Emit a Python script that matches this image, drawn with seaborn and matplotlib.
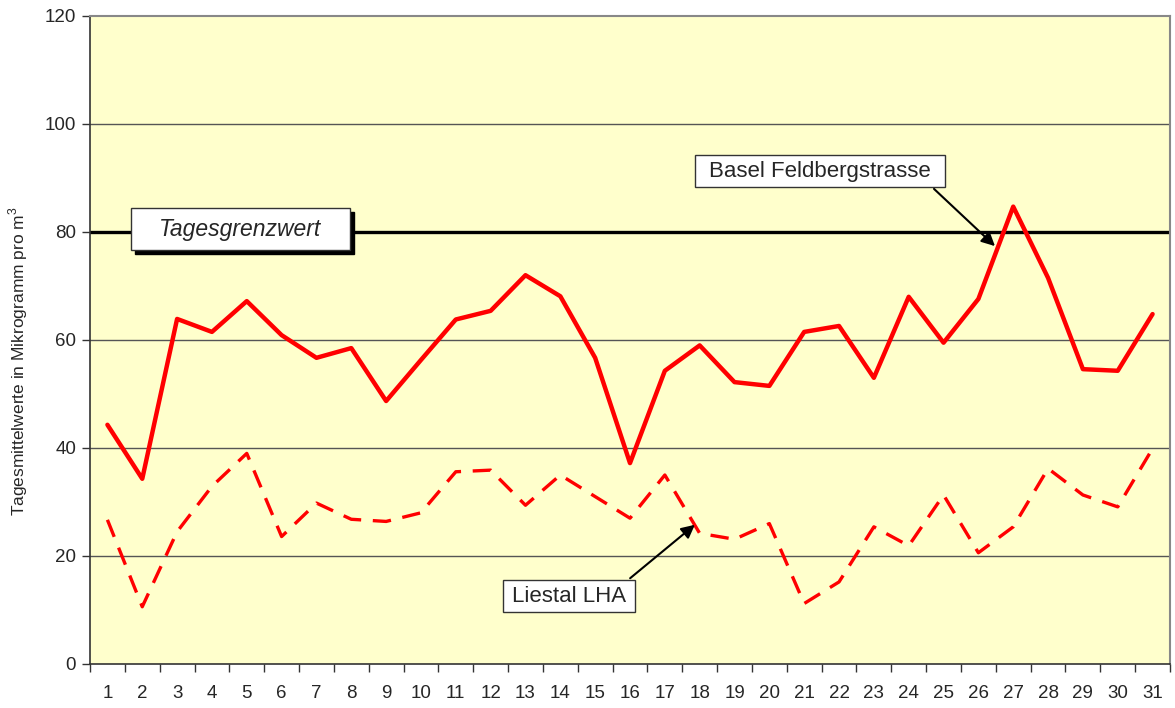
import matplotlib
matplotlib.use("Agg")
import matplotlib.pyplot as plt
import seaborn as sns
import pandas as pd
import numpy as np
from matplotlib.patches import Rectangle

days = list(range(1, 32))
basel = [44.3, 34.3, 63.9, 61.5, 67.2, 60.9, 56.7, 58.5, 48.7, 56.3,
         63.8, 65.4, 72.0, 68.1, 56.7, 37.2, 54.3, 59.0, 52.2, 51.5,
         61.5, 62.6, 53.0, 68.0, 59.5, 67.6, 84.7, 71.5, 54.6, 54.3, 64.8]
liestal = [26.7, 10.6, 24.5, 32.9, 39.0, 23.6, 29.8, 26.8, 26.4, 28.0,
           35.6, 35.9, 29.4, 35.0, 31.0, 27.0, 35.0, 24.2, 23.1, 26.0,
           11.2, 15.2, 25.4, 21.9, 31.3, 20.6, 25.4, 36.2, 31.3, 29.1, 39.9]
limit_value = 80
limit_label = "Tagesgrenzwert"
basel_label = "Basel Feldbergstrasse"
liestal_label = "Liestal LHA"
y_label = "Tagesmittelwerte in Mikrogramm pro m$^3$"
y_ticks = [0, 20, 40, 60, 80, 100, 120]

sns.set_style("white")
plt.rcParams['font.family'] = ['Liberation Sans', 'DejaVu Sans']
plt.rcParams['mathtext.fontset'] = 'custom'
plt.rcParams['mathtext.rm'] = 'Liberation Sans'

fig = plt.figure(figsize=(11.75, 7.08), dpi=100)
ax = fig.add_axes([90/1175, 1-664/708, (1170-90)/1175, (664-16)/708])
ax.set_facecolor("#FFFFCC")

for yv in y_ticks[1:-1]:
    ax.axhline(yv, color="#555555", lw=1, zorder=1)

ax.axhline(limit_value, color="black", lw=2.4, zorder=2)

df = pd.DataFrame({"day": days, "basel": basel, "liestal": liestal})
sns.lineplot(data=df, x="day", y="basel", ax=ax, color="#FF0000", lw=3.2, zorder=4)
sns.lineplot(data=df, x="day", y="liestal", ax=ax, color="#FF0000", lw=2.4,
             dashes=False, zorder=4)
ax.lines[-1].set_dashes((5.5, 3.5))

ax.set_xlim(0.5, 31.5)
ax.set_ylim(0, 120)
ax.set_xticks(days)
ax.set_xticklabels([str(d) for d in days], fontsize=13.5)
ax.set_xticks(np.arange(0.5, 32, 1), minor=True)
ax.tick_params(axis="x", which="major", length=0, pad=15)
ax.tick_params(axis="x", which="minor", length=6, width=1, color="#333333", direction="out", bottom=True)
ax.set_yticks(y_ticks)
ax.set_yticklabels([str(v) for v in y_ticks], fontsize=13.5)
ax.tick_params(axis="y", length=6, width=1, color="#333333", direction="out", left=True, pad=4)
ax.set_xlabel("")
ax.set_ylabel(y_label, fontsize=12.5)
ax.yaxis.set_label_coords(-0.056, (664 - 361) / 648)

for s in ["left", "bottom"]:
    ax.spines[s].set_color("#333333")
    ax.spines[s].set_linewidth(1.2)
for s in ["top", "right"]:
    ax.spines[s].set_color("#888888")
    ax.spines[s].set_linewidth(1.5)

# Tagesgrenzwert box with shadow
px_x = 31 / (1170 - 90)
px_y = 120 / (664 - 16)
x0, x1 = 0.5 + (131 - 90) * px_x, 0.5 + (350 - 90) * px_x
y0, y1 = (664 - 250) * px_y, (664 - 208) * px_y
ax.add_patch(Rectangle((x0 + 3.5 * px_x, y0 - 3.5 * px_y), x1 - x0, y1 - y0,
                       facecolor="black", edgecolor="black", zorder=5))
ax.add_patch(Rectangle((x0, y0), x1 - x0, y1 - y0, facecolor="white",
                       edgecolor="#333333", lw=1, zorder=6))
ax.text((x0 + x1) / 2, (y0 + y1) / 2, limit_label, fontsize=16.5, style="italic",
        ha="center", va="center", zorder=7)

# Basel box
bx0, bx1 = 0.5 + (695 - 90) * px_x, 0.5 + (945 - 90) * px_x
by0, by1 = (664 - 187) * px_y, (664 - 155) * px_y
ax.add_patch(Rectangle((bx0, by0), bx1 - bx0, by1 - by0, facecolor="white",
                       edgecolor="#333333", lw=1, zorder=6))
ax.text((bx0 + bx1) / 2, (by0 + by1) / 2, basel_label, fontsize=16,
        ha="center", va="center", zorder=7)
ax.annotate("", xy=(0.5 + (997 - 90) * px_x, (664 - 248) * px_y),
            xytext=(0.5 + (932 - 90) * px_x, by0),
            arrowprops=dict(arrowstyle="-|>", color="black", lw=1.5,
                            mutation_scale=20), zorder=7)

# Liestal box
lx0, lx1 = 0.5 + (503 - 90) * px_x, 0.5 + (635 - 90) * px_x
ly0, ly1 = (664 - 612) * px_y, (664 - 580) * px_y
ax.add_patch(Rectangle((lx0, ly0), lx1 - lx0, ly1 - ly0, facecolor="white",
                       edgecolor="#333333", lw=1, zorder=6))
ax.text((lx0 + lx1) / 2, (ly0 + ly1) / 2, liestal_label, fontsize=16,
        ha="center", va="center", zorder=7)
ax.annotate("", xy=(0.5 + (697 - 90) * px_x, (664 - 523) * px_y),
            xytext=(0.5 + (628 - 90) * px_x, ly1),
            arrowprops=dict(arrowstyle="-|>", color="black", lw=1.5,
                            mutation_scale=20), zorder=7)

fig.savefig("out.png", dpi=100)
